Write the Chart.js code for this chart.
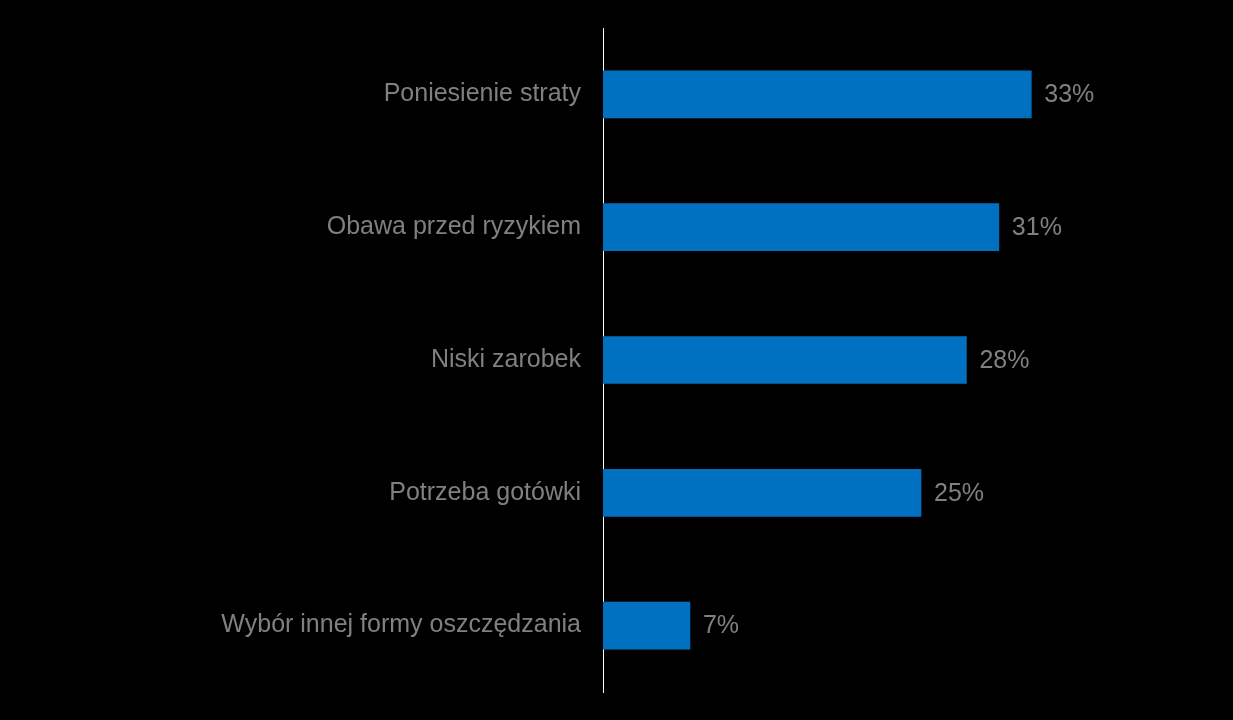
<!DOCTYPE html>
<html>
<head>
<meta charset="utf-8">
<script src="https://cdn.jsdelivr.net/npm/chart.js@4"></script>
<style>
html,body{margin:0;padding:0;background:#000;}
#wrap{width:1233px;height:720px;position:relative;}
</style>
</head>
<body>
<div id="wrap"><canvas id="c"></canvas></div>
<script>
const categories = ["Poniesienie straty","Obawa przed ryzykiem","Niski zarobek","Potrzeba gotówki","Wybór innej formy oszczędzania"];
const values = [33, 30.5, 28, 24.5, 6.7];
const valueLabels = ["33%","31%","28%","25%","7%"];

const textColor = '#808080';
const fontSpec = {family: '"Liberation Sans", Arial, sans-serif', size: 25};

const valueLabelPlugin = {
  id: 'valueLabels',
  afterDatasetsDraw(chart) {
    const ctx = chart.ctx;
    const meta = chart.getDatasetMeta(0);
    ctx.save();
    ctx.fillStyle = textColor;
    ctx.font = fontSpec.size + 'px ' + fontSpec.family;
    ctx.textAlign = 'left';
    ctx.textBaseline = 'middle';
    meta.data.forEach((bar, i) => {
      ctx.fillText(valueLabels[i], bar.x + 13, bar.y + 1);
    });
    ctx.restore();
  }
};

const bgPlugin = {
  id: 'bg',
  beforeDraw(chart) {
    const ctx = chart.ctx;
    ctx.save();
    ctx.fillStyle = '#000';
    ctx.fillRect(0, 0, chart.width, chart.height);
    ctx.restore();
  }
};

new Chart(document.getElementById('c'), {
  type: 'bar',
  data: {
    labels: categories,
    datasets: [{
      data: values,
      backgroundColor: '#0070C0',
      borderWidth: 0,
      barThickness: 47
    }]
  },
  options: {
    indexAxis: 'y',
    responsive: true,
    maintainAspectRatio: false,
    animation: false,
    layout: {padding: {top: 28, bottom: 28, left: 0, right: 7}},
    plugins: {legend: {display: false}, tooltip: {enabled: false}},
    scales: {
      x: {
        display: false,
        min: 0,
        max: 48
      },
      y: {
        grid: {display: false, drawTicks: false},
        border: {display: true, color: '#ffffff', width: 1},
        ticks: {color: textColor, font: fontSpec, padding: 22},
        afterFit(scale) {
          scale.width = 603;
          scale.paddingTop = 0;
          scale.paddingBottom = 0;
        }
      }
    }
  },
  plugins: [bgPlugin, valueLabelPlugin]
});
</script>
</body>
</html>
